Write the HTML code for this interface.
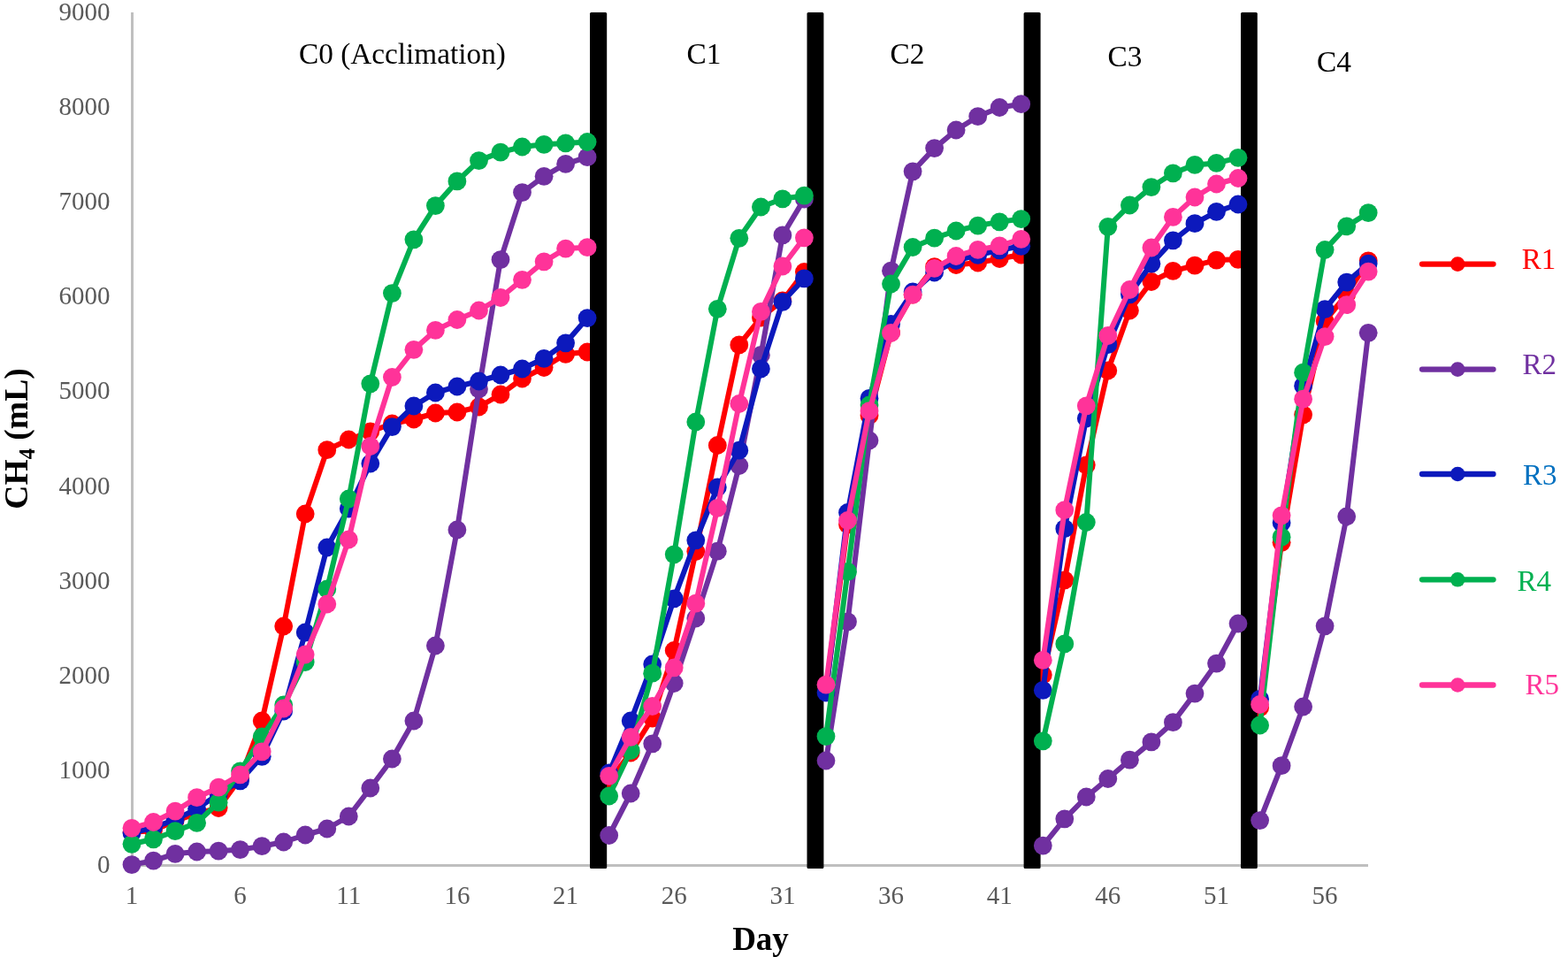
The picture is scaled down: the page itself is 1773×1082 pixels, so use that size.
<!DOCTYPE html>
<html><head><meta charset="utf-8"><title>CH4 chart</title><style>html,body{margin:0;padding:0;background:#fff;}body{width:1773px;height:1082px;overflow:hidden;}svg{display:block;}</style></head><body>
<svg width="1773" height="1082" viewBox="0 0 1773 1082">
<rect width="1773" height="1082" fill="#fff"/>
<line x1="149.5" y1="14" x2="149.5" y2="979.9" stroke="#BFBFBF" stroke-width="3"/>
<line x1="148" y1="978.4" x2="1547" y2="978.4" stroke="#BFBFBF" stroke-width="3"/>
<g font-family="Liberation Serif, serif" font-size="29" fill="#595959" text-anchor="end"><text x="124.5" y="987.1">0</text><text x="124.5" y="879.9">1000</text><text x="124.5" y="772.8">2000</text><text x="124.5" y="665.6">3000</text><text x="124.5" y="558.5">4000</text><text x="124.5" y="451.3">5000</text><text x="124.5" y="344.2">6000</text><text x="124.5" y="237.0">7000</text><text x="124.5" y="129.9">8000</text><text x="124.5" y="22.7">9000</text></g>

<g font-family="Liberation Serif, serif" font-size="29" fill="#595959" text-anchor="middle"><text x="149.0" y="1022">1</text><text x="271.6" y="1022">6</text><text x="394.3" y="1022">11</text><text x="516.9" y="1022">16</text><text x="639.6" y="1022">21</text><text x="762.2" y="1022">26</text><text x="884.9" y="1022">31</text><text x="1007.5" y="1022">36</text><text x="1130.2" y="1022">41</text><text x="1252.8" y="1022">46</text><text x="1375.5" y="1022">51</text><text x="1498.1" y="1022">56</text></g>

<g font-family="Liberation Serif, serif" font-size="33.3" fill="#000"><text x="338" y="71.8">C0 (Acclimation)</text><text x="776.5" y="72">C1</text><text x="1006.5" y="72">C2</text><text x="1252.5" y="74.8">C3</text><text x="1489" y="81.1">C4</text></g>

<text x="860" y="1073.8" text-anchor="middle" font-family="Liberation Serif, serif" font-size="37" font-weight="bold" fill="#000">Day</text>
<text transform="translate(31,496) rotate(-90)" text-anchor="middle" font-family="Liberation Serif, serif" font-size="37.6" font-weight="bold" fill="#000">CH<tspan font-size="24.5" dy="8">4</tspan><tspan dy="-8"> (mL)</tspan></text>

<g fill="none" stroke="#FF0000" stroke-width="6" stroke-linejoin="round" stroke-linecap="round"><polyline points="149.0,941.0 173.5,939.0 198.1,928.0 222.6,920.0 247.1,913.5 271.6,880.0 296.2,815.0 320.7,708.0 345.2,581.0 369.8,508.7 394.3,497.0 418.8,488.0 443.4,479.0 467.9,474.0 492.4,467.0 516.9,466.0 541.5,460.0 566.0,446.0 590.5,428.0 615.1,415.5 639.6,400.3 664.1,398.0"/><polyline points="688.7,883.0 713.2,851.0 737.7,812.0 762.2,735.5 786.8,623.5 811.3,503.5 835.8,389.9 860.4,359.0 884.9,340.0 909.4,307.5"/><polyline points="934.0,780.0 958.5,593.0 983.0,469.7 1007.5,376.0 1032.1,333.0 1056.6,301.7 1081.1,299.5 1105.7,297.0 1130.2,292.5 1154.7,288.0"/><polyline points="1179.3,763.0 1203.8,655.8 1228.3,525.8 1252.8,419.0 1277.4,351.0 1301.9,318.5 1326.4,306.3 1351.0,300.2 1375.5,294.1 1400.0,293.3"/><polyline points="1424.6,800.0 1449.1,613.3 1473.6,468.8 1498.1,363.0 1522.7,333.0 1547.2,294.8"/></g>
<g fill="#FF0000"><circle cx="149.0" cy="941.0" r="10.4"/><circle cx="173.5" cy="939.0" r="10.4"/><circle cx="198.1" cy="928.0" r="10.4"/><circle cx="222.6" cy="920.0" r="10.4"/><circle cx="247.1" cy="913.5" r="10.4"/><circle cx="271.6" cy="880.0" r="10.4"/><circle cx="296.2" cy="815.0" r="10.4"/><circle cx="320.7" cy="708.0" r="10.4"/><circle cx="345.2" cy="581.0" r="10.4"/><circle cx="369.8" cy="508.7" r="10.4"/><circle cx="394.3" cy="497.0" r="10.4"/><circle cx="418.8" cy="488.0" r="10.4"/><circle cx="443.4" cy="479.0" r="10.4"/><circle cx="467.9" cy="474.0" r="10.4"/><circle cx="492.4" cy="467.0" r="10.4"/><circle cx="516.9" cy="466.0" r="10.4"/><circle cx="541.5" cy="460.0" r="10.4"/><circle cx="566.0" cy="446.0" r="10.4"/><circle cx="590.5" cy="428.0" r="10.4"/><circle cx="615.1" cy="415.5" r="10.4"/><circle cx="639.6" cy="400.3" r="10.4"/><circle cx="664.1" cy="398.0" r="10.4"/><circle cx="688.7" cy="883.0" r="10.4"/><circle cx="713.2" cy="851.0" r="10.4"/><circle cx="737.7" cy="812.0" r="10.4"/><circle cx="762.2" cy="735.5" r="10.4"/><circle cx="786.8" cy="623.5" r="10.4"/><circle cx="811.3" cy="503.5" r="10.4"/><circle cx="835.8" cy="389.9" r="10.4"/><circle cx="860.4" cy="359.0" r="10.4"/><circle cx="884.9" cy="340.0" r="10.4"/><circle cx="909.4" cy="307.5" r="10.4"/><circle cx="934.0" cy="780.0" r="10.4"/><circle cx="958.5" cy="593.0" r="10.4"/><circle cx="983.0" cy="469.7" r="10.4"/><circle cx="1007.5" cy="376.0" r="10.4"/><circle cx="1032.1" cy="333.0" r="10.4"/><circle cx="1056.6" cy="301.7" r="10.4"/><circle cx="1081.1" cy="299.5" r="10.4"/><circle cx="1105.7" cy="297.0" r="10.4"/><circle cx="1130.2" cy="292.5" r="10.4"/><circle cx="1154.7" cy="288.0" r="10.4"/><circle cx="1179.3" cy="763.0" r="10.4"/><circle cx="1203.8" cy="655.8" r="10.4"/><circle cx="1228.3" cy="525.8" r="10.4"/><circle cx="1252.8" cy="419.0" r="10.4"/><circle cx="1277.4" cy="351.0" r="10.4"/><circle cx="1301.9" cy="318.5" r="10.4"/><circle cx="1326.4" cy="306.3" r="10.4"/><circle cx="1351.0" cy="300.2" r="10.4"/><circle cx="1375.5" cy="294.1" r="10.4"/><circle cx="1400.0" cy="293.3" r="10.4"/><circle cx="1424.6" cy="800.0" r="10.4"/><circle cx="1449.1" cy="613.3" r="10.4"/><circle cx="1473.6" cy="468.8" r="10.4"/><circle cx="1498.1" cy="363.0" r="10.4"/><circle cx="1522.7" cy="333.0" r="10.4"/><circle cx="1547.2" cy="294.8" r="10.4"/></g>

<g fill="#000"><rect x="667.0" y="14" width="19.2" height="968" rx="1.5"/><rect x="912.5" y="14" width="18.9" height="968" rx="1.5"/><rect x="1157.6" y="14" width="19.0" height="968" rx="1.5"/><rect x="1403.0" y="14" width="18.8" height="968" rx="1.5"/></g>

<g fill="none" stroke="#7030A0" stroke-width="6" stroke-linejoin="round" stroke-linecap="round"><polyline points="149.0,977.6 173.5,973.2 198.1,965.3 222.6,963.0 247.1,962.2 271.6,960.6 296.2,956.7 320.7,952.0 345.2,944.0 369.8,937.0 394.3,923.0 418.8,891.0 443.4,858.0 467.9,815.0 492.4,730.0 516.9,599.0 541.5,440.0 566.0,293.6 590.5,217.6 615.1,199.3 639.6,185.4 664.1,177.7"/><polyline points="688.7,944.5 713.2,897.0 737.7,840.8 762.2,772.5 786.8,699.0 811.3,623.2 835.8,526.5 860.4,401.4 884.9,265.9 909.4,225.0"/><polyline points="934.0,860.0 958.5,702.9 983.0,498.0 1007.5,306.2 1032.1,193.8 1056.6,167.6 1081.1,147.0 1105.7,131.7 1130.2,121.5 1154.7,117.7"/><polyline points="1179.3,956.1 1203.8,925.8 1228.3,901.0 1252.8,880.5 1277.4,859.2 1301.9,838.9 1326.4,816.7 1351.0,784.1 1375.5,750.1 1400.0,705.0"/><polyline points="1424.6,927.6 1449.1,865.7 1473.6,799.0 1498.1,707.8 1522.7,584.0 1547.2,376.3"/></g>
<g fill="#7030A0"><circle cx="149.0" cy="977.6" r="10.4"/><circle cx="173.5" cy="973.2" r="10.4"/><circle cx="198.1" cy="965.3" r="10.4"/><circle cx="222.6" cy="963.0" r="10.4"/><circle cx="247.1" cy="962.2" r="10.4"/><circle cx="271.6" cy="960.6" r="10.4"/><circle cx="296.2" cy="956.7" r="10.4"/><circle cx="320.7" cy="952.0" r="10.4"/><circle cx="345.2" cy="944.0" r="10.4"/><circle cx="369.8" cy="937.0" r="10.4"/><circle cx="394.3" cy="923.0" r="10.4"/><circle cx="418.8" cy="891.0" r="10.4"/><circle cx="443.4" cy="858.0" r="10.4"/><circle cx="467.9" cy="815.0" r="10.4"/><circle cx="492.4" cy="730.0" r="10.4"/><circle cx="516.9" cy="599.0" r="10.4"/><circle cx="541.5" cy="440.0" r="10.4"/><circle cx="566.0" cy="293.6" r="10.4"/><circle cx="590.5" cy="217.6" r="10.4"/><circle cx="615.1" cy="199.3" r="10.4"/><circle cx="639.6" cy="185.4" r="10.4"/><circle cx="664.1" cy="177.7" r="10.4"/><circle cx="688.7" cy="944.5" r="10.4"/><circle cx="713.2" cy="897.0" r="10.4"/><circle cx="737.7" cy="840.8" r="10.4"/><circle cx="762.2" cy="772.5" r="10.4"/><circle cx="786.8" cy="699.0" r="10.4"/><circle cx="811.3" cy="623.2" r="10.4"/><circle cx="835.8" cy="526.5" r="10.4"/><circle cx="860.4" cy="401.4" r="10.4"/><circle cx="884.9" cy="265.9" r="10.4"/><circle cx="909.4" cy="225.0" r="10.4"/><circle cx="934.0" cy="860.0" r="10.4"/><circle cx="958.5" cy="702.9" r="10.4"/><circle cx="983.0" cy="498.0" r="10.4"/><circle cx="1007.5" cy="306.2" r="10.4"/><circle cx="1032.1" cy="193.8" r="10.4"/><circle cx="1056.6" cy="167.6" r="10.4"/><circle cx="1081.1" cy="147.0" r="10.4"/><circle cx="1105.7" cy="131.7" r="10.4"/><circle cx="1130.2" cy="121.5" r="10.4"/><circle cx="1154.7" cy="117.7" r="10.4"/><circle cx="1179.3" cy="956.1" r="10.4"/><circle cx="1203.8" cy="925.8" r="10.4"/><circle cx="1228.3" cy="901.0" r="10.4"/><circle cx="1252.8" cy="880.5" r="10.4"/><circle cx="1277.4" cy="859.2" r="10.4"/><circle cx="1301.9" cy="838.9" r="10.4"/><circle cx="1326.4" cy="816.7" r="10.4"/><circle cx="1351.0" cy="784.1" r="10.4"/><circle cx="1375.5" cy="750.1" r="10.4"/><circle cx="1400.0" cy="705.0" r="10.4"/><circle cx="1424.6" cy="927.6" r="10.4"/><circle cx="1449.1" cy="865.7" r="10.4"/><circle cx="1473.6" cy="799.0" r="10.4"/><circle cx="1498.1" cy="707.8" r="10.4"/><circle cx="1522.7" cy="584.0" r="10.4"/><circle cx="1547.2" cy="376.3" r="10.4"/></g>

<g fill="none" stroke="#0C19BC" stroke-width="6" stroke-linejoin="round" stroke-linecap="round"><polyline points="149.0,941.8 173.5,935.5 198.1,926.8 222.6,914.3 247.1,898.0 271.6,882.8 296.2,855.3 320.7,804.0 345.2,715.0 369.8,619.0 394.3,575.0 418.8,524.0 443.4,482.6 467.9,459.0 492.4,444.0 516.9,437.0 541.5,431.0 566.0,424.0 590.5,417.0 615.1,405.3 639.6,387.8 664.1,359.6"/><polyline points="688.7,874.0 713.2,815.0 737.7,751.0 762.2,676.8 786.8,610.8 811.3,551.0 835.8,509.2 860.4,417.0 884.9,341.3 909.4,314.9"/><polyline points="934.0,783.0 958.5,579.5 983.0,450.4 1007.5,366.5 1032.1,330.0 1056.6,308.0 1081.1,294.5 1105.7,288.3 1130.2,282.8 1154.7,278.3"/><polyline points="1179.3,780.4 1203.8,597.7 1228.3,473.0 1252.8,389.7 1277.4,332.8 1301.9,298.2 1326.4,271.8 1351.0,252.7 1375.5,239.3 1400.0,231.0"/><polyline points="1424.6,790.4 1449.1,591.0 1473.6,436.2 1498.1,349.7 1522.7,319.1 1547.2,298.1"/></g>
<g fill="#0C19BC"><circle cx="149.0" cy="941.8" r="10.4"/><circle cx="173.5" cy="935.5" r="10.4"/><circle cx="198.1" cy="926.8" r="10.4"/><circle cx="222.6" cy="914.3" r="10.4"/><circle cx="247.1" cy="898.0" r="10.4"/><circle cx="271.6" cy="882.8" r="10.4"/><circle cx="296.2" cy="855.3" r="10.4"/><circle cx="320.7" cy="804.0" r="10.4"/><circle cx="345.2" cy="715.0" r="10.4"/><circle cx="369.8" cy="619.0" r="10.4"/><circle cx="394.3" cy="575.0" r="10.4"/><circle cx="418.8" cy="524.0" r="10.4"/><circle cx="443.4" cy="482.6" r="10.4"/><circle cx="467.9" cy="459.0" r="10.4"/><circle cx="492.4" cy="444.0" r="10.4"/><circle cx="516.9" cy="437.0" r="10.4"/><circle cx="541.5" cy="431.0" r="10.4"/><circle cx="566.0" cy="424.0" r="10.4"/><circle cx="590.5" cy="417.0" r="10.4"/><circle cx="615.1" cy="405.3" r="10.4"/><circle cx="639.6" cy="387.8" r="10.4"/><circle cx="664.1" cy="359.6" r="10.4"/><circle cx="688.7" cy="874.0" r="10.4"/><circle cx="713.2" cy="815.0" r="10.4"/><circle cx="737.7" cy="751.0" r="10.4"/><circle cx="762.2" cy="676.8" r="10.4"/><circle cx="786.8" cy="610.8" r="10.4"/><circle cx="811.3" cy="551.0" r="10.4"/><circle cx="835.8" cy="509.2" r="10.4"/><circle cx="860.4" cy="417.0" r="10.4"/><circle cx="884.9" cy="341.3" r="10.4"/><circle cx="909.4" cy="314.9" r="10.4"/><circle cx="934.0" cy="783.0" r="10.4"/><circle cx="958.5" cy="579.5" r="10.4"/><circle cx="983.0" cy="450.4" r="10.4"/><circle cx="1007.5" cy="366.5" r="10.4"/><circle cx="1032.1" cy="330.0" r="10.4"/><circle cx="1056.6" cy="308.0" r="10.4"/><circle cx="1081.1" cy="294.5" r="10.4"/><circle cx="1105.7" cy="288.3" r="10.4"/><circle cx="1130.2" cy="282.8" r="10.4"/><circle cx="1154.7" cy="278.3" r="10.4"/><circle cx="1179.3" cy="780.4" r="10.4"/><circle cx="1203.8" cy="597.7" r="10.4"/><circle cx="1228.3" cy="473.0" r="10.4"/><circle cx="1252.8" cy="389.7" r="10.4"/><circle cx="1277.4" cy="332.8" r="10.4"/><circle cx="1301.9" cy="298.2" r="10.4"/><circle cx="1326.4" cy="271.8" r="10.4"/><circle cx="1351.0" cy="252.7" r="10.4"/><circle cx="1375.5" cy="239.3" r="10.4"/><circle cx="1400.0" cy="231.0" r="10.4"/><circle cx="1424.6" cy="790.4" r="10.4"/><circle cx="1449.1" cy="591.0" r="10.4"/><circle cx="1473.6" cy="436.2" r="10.4"/><circle cx="1498.1" cy="349.7" r="10.4"/><circle cx="1522.7" cy="319.1" r="10.4"/><circle cx="1547.2" cy="298.1" r="10.4"/></g>

<g fill="none" stroke="#00B050" stroke-width="6" stroke-linejoin="round" stroke-linecap="round"><polyline points="149.0,954.3 173.5,948.8 198.1,939.7 222.6,930.4 247.1,907.2 271.6,871.8 296.2,833.0 320.7,797.0 345.2,748.5 369.8,666.0 394.3,564.0 418.8,433.8 443.4,331.6 467.9,270.8 492.4,232.6 516.9,204.9 541.5,181.6 566.0,172.1 590.5,166.0 615.1,163.3 639.6,161.9 664.1,160.5"/><polyline points="688.7,900.0 713.2,848.5 737.7,761.2 762.2,626.8 786.8,477.0 811.3,349.3 835.8,269.3 860.4,234.0 884.9,224.8 909.4,221.2"/><polyline points="934.0,832.6 958.5,646.4 983.0,458.0 1007.5,321.0 1032.1,279.5 1056.6,269.2 1081.1,261.0 1105.7,255.1 1130.2,250.8 1154.7,247.6"/><polyline points="1179.3,837.8 1203.8,727.9 1228.3,590.5 1252.8,256.3 1277.4,232.0 1301.9,211.6 1326.4,195.8 1351.0,186.4 1375.5,184.4 1400.0,178.3"/><polyline points="1424.6,820.0 1449.1,607.2 1473.6,421.2 1498.1,282.5 1522.7,255.9 1547.2,240.6"/></g>
<g fill="#00B050"><circle cx="149.0" cy="954.3" r="10.4"/><circle cx="173.5" cy="948.8" r="10.4"/><circle cx="198.1" cy="939.7" r="10.4"/><circle cx="222.6" cy="930.4" r="10.4"/><circle cx="247.1" cy="907.2" r="10.4"/><circle cx="271.6" cy="871.8" r="10.4"/><circle cx="296.2" cy="833.0" r="10.4"/><circle cx="320.7" cy="797.0" r="10.4"/><circle cx="345.2" cy="748.5" r="10.4"/><circle cx="369.8" cy="666.0" r="10.4"/><circle cx="394.3" cy="564.0" r="10.4"/><circle cx="418.8" cy="433.8" r="10.4"/><circle cx="443.4" cy="331.6" r="10.4"/><circle cx="467.9" cy="270.8" r="10.4"/><circle cx="492.4" cy="232.6" r="10.4"/><circle cx="516.9" cy="204.9" r="10.4"/><circle cx="541.5" cy="181.6" r="10.4"/><circle cx="566.0" cy="172.1" r="10.4"/><circle cx="590.5" cy="166.0" r="10.4"/><circle cx="615.1" cy="163.3" r="10.4"/><circle cx="639.6" cy="161.9" r="10.4"/><circle cx="664.1" cy="160.5" r="10.4"/><circle cx="688.7" cy="900.0" r="10.4"/><circle cx="713.2" cy="848.5" r="10.4"/><circle cx="737.7" cy="761.2" r="10.4"/><circle cx="762.2" cy="626.8" r="10.4"/><circle cx="786.8" cy="477.0" r="10.4"/><circle cx="811.3" cy="349.3" r="10.4"/><circle cx="835.8" cy="269.3" r="10.4"/><circle cx="860.4" cy="234.0" r="10.4"/><circle cx="884.9" cy="224.8" r="10.4"/><circle cx="909.4" cy="221.2" r="10.4"/><circle cx="934.0" cy="832.6" r="10.4"/><circle cx="958.5" cy="646.4" r="10.4"/><circle cx="983.0" cy="458.0" r="10.4"/><circle cx="1007.5" cy="321.0" r="10.4"/><circle cx="1032.1" cy="279.5" r="10.4"/><circle cx="1056.6" cy="269.2" r="10.4"/><circle cx="1081.1" cy="261.0" r="10.4"/><circle cx="1105.7" cy="255.1" r="10.4"/><circle cx="1130.2" cy="250.8" r="10.4"/><circle cx="1154.7" cy="247.6" r="10.4"/><circle cx="1179.3" cy="837.8" r="10.4"/><circle cx="1203.8" cy="727.9" r="10.4"/><circle cx="1228.3" cy="590.5" r="10.4"/><circle cx="1252.8" cy="256.3" r="10.4"/><circle cx="1277.4" cy="232.0" r="10.4"/><circle cx="1301.9" cy="211.6" r="10.4"/><circle cx="1326.4" cy="195.8" r="10.4"/><circle cx="1351.0" cy="186.4" r="10.4"/><circle cx="1375.5" cy="184.4" r="10.4"/><circle cx="1400.0" cy="178.3" r="10.4"/><circle cx="1424.6" cy="820.0" r="10.4"/><circle cx="1449.1" cy="607.2" r="10.4"/><circle cx="1473.6" cy="421.2" r="10.4"/><circle cx="1498.1" cy="282.5" r="10.4"/><circle cx="1522.7" cy="255.9" r="10.4"/><circle cx="1547.2" cy="240.6" r="10.4"/></g>

<g fill="none" stroke="#FF3399" stroke-width="6" stroke-linejoin="round" stroke-linecap="round"><polyline points="149.0,936.3 173.5,929.5 198.1,917.1 222.6,901.7 247.1,890.2 271.6,875.8 296.2,849.8 320.7,801.0 345.2,740.0 369.8,683.0 394.3,610.0 418.8,504.5 443.4,426.5 467.9,395.3 492.4,373.4 516.9,361.5 541.5,351.0 566.0,336.5 590.5,316.3 615.1,295.8 639.6,281.1 664.1,279.7"/><polyline points="688.7,877.3 713.2,833.3 737.7,798.5 762.2,754.8 786.8,682.2 811.3,574.4 835.8,456.5 860.4,352.4 884.9,301.0 909.4,268.8"/><polyline points="934.0,774.2 958.5,588.5 983.0,464.7 1007.5,376.5 1032.1,333.2 1056.6,303.3 1081.1,289.5 1105.7,282.4 1130.2,277.9 1154.7,270.4"/><polyline points="1179.3,746.4 1203.8,576.7 1228.3,458.8 1252.8,379.5 1277.4,327.5 1301.9,280.0 1326.4,245.4 1351.0,223.0 1375.5,208.0 1400.0,201.5"/><polyline points="1424.6,796.5 1449.1,582.8 1473.6,451.2 1498.1,380.6 1522.7,344.7 1547.2,307.1"/></g>
<g fill="#FF3399"><circle cx="149.0" cy="936.3" r="10.4"/><circle cx="173.5" cy="929.5" r="10.4"/><circle cx="198.1" cy="917.1" r="10.4"/><circle cx="222.6" cy="901.7" r="10.4"/><circle cx="247.1" cy="890.2" r="10.4"/><circle cx="271.6" cy="875.8" r="10.4"/><circle cx="296.2" cy="849.8" r="10.4"/><circle cx="320.7" cy="801.0" r="10.4"/><circle cx="345.2" cy="740.0" r="10.4"/><circle cx="369.8" cy="683.0" r="10.4"/><circle cx="394.3" cy="610.0" r="10.4"/><circle cx="418.8" cy="504.5" r="10.4"/><circle cx="443.4" cy="426.5" r="10.4"/><circle cx="467.9" cy="395.3" r="10.4"/><circle cx="492.4" cy="373.4" r="10.4"/><circle cx="516.9" cy="361.5" r="10.4"/><circle cx="541.5" cy="351.0" r="10.4"/><circle cx="566.0" cy="336.5" r="10.4"/><circle cx="590.5" cy="316.3" r="10.4"/><circle cx="615.1" cy="295.8" r="10.4"/><circle cx="639.6" cy="281.1" r="10.4"/><circle cx="664.1" cy="279.7" r="10.4"/><circle cx="688.7" cy="877.3" r="10.4"/><circle cx="713.2" cy="833.3" r="10.4"/><circle cx="737.7" cy="798.5" r="10.4"/><circle cx="762.2" cy="754.8" r="10.4"/><circle cx="786.8" cy="682.2" r="10.4"/><circle cx="811.3" cy="574.4" r="10.4"/><circle cx="835.8" cy="456.5" r="10.4"/><circle cx="860.4" cy="352.4" r="10.4"/><circle cx="884.9" cy="301.0" r="10.4"/><circle cx="909.4" cy="268.8" r="10.4"/><circle cx="934.0" cy="774.2" r="10.4"/><circle cx="958.5" cy="588.5" r="10.4"/><circle cx="983.0" cy="464.7" r="10.4"/><circle cx="1007.5" cy="376.5" r="10.4"/><circle cx="1032.1" cy="333.2" r="10.4"/><circle cx="1056.6" cy="303.3" r="10.4"/><circle cx="1081.1" cy="289.5" r="10.4"/><circle cx="1105.7" cy="282.4" r="10.4"/><circle cx="1130.2" cy="277.9" r="10.4"/><circle cx="1154.7" cy="270.4" r="10.4"/><circle cx="1179.3" cy="746.4" r="10.4"/><circle cx="1203.8" cy="576.7" r="10.4"/><circle cx="1228.3" cy="458.8" r="10.4"/><circle cx="1252.8" cy="379.5" r="10.4"/><circle cx="1277.4" cy="327.5" r="10.4"/><circle cx="1301.9" cy="280.0" r="10.4"/><circle cx="1326.4" cy="245.4" r="10.4"/><circle cx="1351.0" cy="223.0" r="10.4"/><circle cx="1375.5" cy="208.0" r="10.4"/><circle cx="1400.0" cy="201.5" r="10.4"/><circle cx="1424.6" cy="796.5" r="10.4"/><circle cx="1449.1" cy="582.8" r="10.4"/><circle cx="1473.6" cy="451.2" r="10.4"/><circle cx="1498.1" cy="380.6" r="10.4"/><circle cx="1522.7" cy="344.7" r="10.4"/><circle cx="1547.2" cy="307.1" r="10.4"/></g>

<line x1="1608" y1="298.6" x2="1688.5" y2="298.6" stroke="#FF0000" stroke-width="6.3" stroke-linecap="round"/><circle cx="1648.2" cy="298.6" r="8.3" fill="#FF0000"/><text x="1720.8" y="304.1" font-family="Liberation Serif, serif" font-size="33" fill="#FF0000">R1</text><line x1="1608" y1="417.6" x2="1688.5" y2="417.6" stroke="#7030A0" stroke-width="6.3" stroke-linecap="round"/><circle cx="1648.2" cy="417.6" r="8.3" fill="#7030A0"/><text x="1721.5" y="422.7" font-family="Liberation Serif, serif" font-size="33" fill="#7030A0">R2</text><line x1="1608" y1="536.0" x2="1688.5" y2="536.0" stroke="#0C19BC" stroke-width="6.3" stroke-linecap="round"/><circle cx="1648.2" cy="536.0" r="8.3" fill="#0C19BC"/><text x="1722.0" y="548.0" font-family="Liberation Serif, serif" font-size="33" fill="#0070C0">R3</text><line x1="1608" y1="655.3" x2="1688.5" y2="655.3" stroke="#00B050" stroke-width="6.3" stroke-linecap="round"/><circle cx="1648.2" cy="655.3" r="8.3" fill="#00B050"/><text x="1715.6" y="668.3" font-family="Liberation Serif, serif" font-size="33" fill="#00B050">R4</text><line x1="1608" y1="774.5" x2="1688.5" y2="774.5" stroke="#FF3399" stroke-width="6.3" stroke-linecap="round"/><circle cx="1648.2" cy="774.5" r="8.3" fill="#FF3399"/><text x="1724.5" y="784.7" font-family="Liberation Serif, serif" font-size="33" fill="#FF3399">R5</text>

</svg>
</body></html>
